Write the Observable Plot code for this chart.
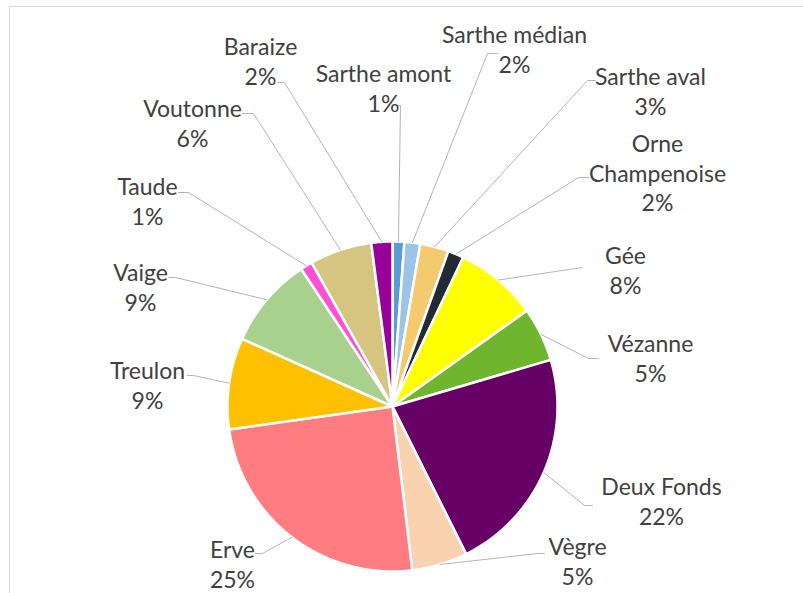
<!DOCTYPE html>
<html><head><meta charset="utf-8">
<script src="https://cdn.jsdelivr.net/npm/d3@7"></script>
<script src="https://cdn.jsdelivr.net/npm/@observablehq/plot@0.6"></script>
<style>
html,body{margin:0;padding:0;background:#fff;}
#wrap{position:relative;width:803px;height:593px;overflow:hidden;}
#frame{position:absolute;left:9px;top:6px;width:900px;height:700px;border-left:1px solid #d9d9d9;border-top:1px solid #d9d9d9;pointer-events:none;}
</style></head><body>
<div id="wrap"><div id="frame"></div></div>
<script>
// ---- data ----
const names = ["Sarthe amont","Sarthe médian","Sarthe aval","Orne Champenoise","Gée","Vézanne","Deux Fonds","Vègre","Erve","Treulon","Vaige","Taude","Voutonne","Baraize"];
const values = [1.15,1.55,2.8,1.55,8.1,5.3,22.2,5.45,24.7,8.95,8.95,1.17,6.1,2.06];
const colors = ["#5B9BD5","#9DC3E6","#F4CA6E","#222A35","#FFFF00","#70B52E","#660066","#F9D2B0","#FF7C80","#FFC000","#A9D18E","#FF4FD2","#D6C580","#990099"];

// ---- layout (not data) ----
const pieLayout = {cx: 392, cy: 406, r: 165};
const labelCenter = [[383,87],[514,48],[650,90],[657,172],[625,269],[650,357],[661,500],[577,560],[232,563],[147,384],[140,286],[147,200],[192,122],[260,60]];
// tick: [outer x, inner x, y]
const labelTick = [[396,400,105],[497,487,53],[595,587,80],[588,578,177],[582,582,267],[598,588,358],[592,584,505],[544,537,553],[255,262,553],[187,193,375],[168,175,277],[178,188,192],[242,253,113],[277,284,82]];
const wrapName = [false,false,false,true,false,false,false,false,false,false,false,false,false,false];

const total = d3.sum(values);
const arcs = d3.pie().sort(null).value(d => d)(values);
const pt = (a, rr) => ({x: pieLayout.cx + rr * Math.sin(a), y: pieLayout.cy - rr * Math.cos(a)});

const slicePts = [];
arcs.forEach((a, i) => {
  slicePts.push({name: names[i], x: pieLayout.cx, y: pieLayout.cy});
  const n = Math.max(4, Math.ceil((a.endAngle - a.startAngle) / (Math.PI / 360)));
  for (let k = 0; k <= n; k++) {
    const ang = a.startAngle + (a.endAngle - a.startAngle) * k / n;
    slicePts.push({name: names[i], ...pt(ang, pieLayout.r)});
  }
});

const leaderPts = [];
arcs.forEach((a, i) => {
  const [xo, xi, yt] = labelTick[i];
  leaderPts.push({name: names[i], x: xo, y: yt});
  leaderPts.push({name: names[i], x: xi, y: yt});
  leaderPts.push({name: names[i], ...pt((a.startAngle + a.endAngle) / 2, pieLayout.r)});
});

const labels = names.map((nm, i) => ({
  x: labelCenter[i][0], y: labelCenter[i][1],
  text: (wrapName[i] ? nm.replace(" ", "\n") : nm) + "\n" + Math.round(values[i] / total * 100) + "%"
}));

const chart = Plot.plot({
  width: 803, height: 593, margin: 0,
  style: {background: "transparent"},
  x: {domain: [0, 803], range: [0, 803], axis: null},
  y: {domain: [0, 593], range: [0, 593], axis: null},
  color: {domain: names, range: colors},
  marks: [
    Plot.line(slicePts, {x: "x", y: "y", z: "name", fill: "name", stroke: "white", strokeWidth: 2.5, strokeLinejoin: "round", curve: "linear-closed"}),
    Plot.line(leaderPts, {x: "x", y: "y", z: "name", stroke: "#B4B4B4", strokeWidth: 1}),
    Plot.text(labels, {x: "x", y: "y", text: "text", fontSize: 23, fontFamily: "Lato", fill: "#404040", lineHeight: 1.28, textAnchor: "middle"})
  ]
});
document.getElementById("wrap").prepend(chart);
</script>
</body></html>
